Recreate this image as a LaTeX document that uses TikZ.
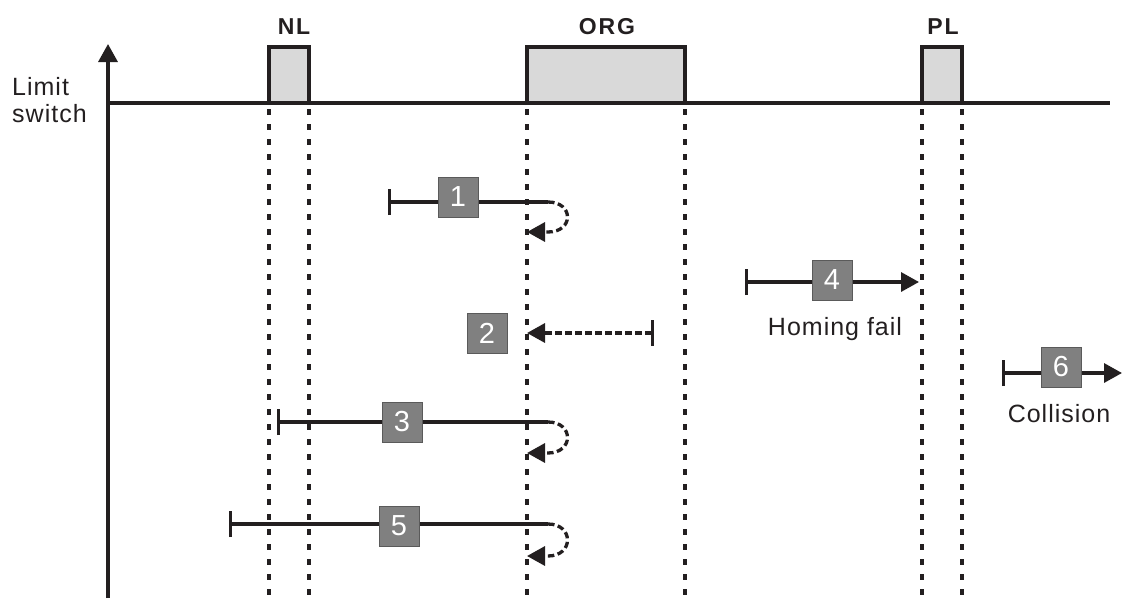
\documentclass[tikz,border=0pt]{standalone}
\usepackage{fontspec}
\setmainfont{Liberation Sans}
\newfontfamily\lab[LetterSpace=4]{Liberation Sans}
\newfontfamily\blab[LetterSpace=8]{Liberation Sans}
\usetikzlibrary{arrows.meta}
\definecolor{ink}{HTML}{231F20}
\definecolor{swfill}{HTML}{D9D9D9}
\definecolor{boxfill}{HTML}{808080}
\definecolor{boxedge}{HTML}{5A5A5A}
\tikzset{
  solidln/.style={draw=ink, line width=3.3pt},
  dotln/.style={draw=ink, line width=3.5pt, dash pattern=on 6pt off 9pt},
  dashln/.style={draw=ink, line width=3.3pt, dash pattern=on 6.5pt off 3.5pt},
  tipend/.style={-{Triangle[length=18pt,width=19pt]}},
  barstart/.style={{Bar[width=26pt]}-},
  barboth/.style={{Bar[width=26pt]}-{Triangle[length=18pt,width=19pt]}},
  numbox/.style={draw=boxedge, line width=1pt, fill=boxfill, minimum size=40pt, inner sep=0pt, text=white, font=\fontsize{29}{30}\selectfont},
  swbox/.style={draw=ink, line width=3.3pt, fill=swfill},
  txt/.style={anchor=base, inner sep=0pt, font=\lab\fontsize{25}{28}\selectfont, text=ink},
  toplab/.style={anchor=base, inner sep=0pt, font=\blab\bfseries\fontsize{23}{26}\selectfont, text=ink},
}
\begin{document}
\begin{tikzpicture}[x=1pt,y=-1pt]
\useasboundingbox (0,0) rectangle (1122,598);
% dotted guide lines
\foreach \xx/\nm in {269/a,309/b,527/c,685/d,922/e,962/f}{
  \coordinate (t\nm) at (\xx,94);
  \coordinate (b\nm) at (\xx,598);
  \draw[dotln] (t\nm) -- (b\nm);
}
% axes
\coordinate (ax0) at (108,598);
\coordinate (ax1) at (108,44);
\coordinate (h0) at (108,103);
\coordinate (h1) at (1110,103);
\draw[solidln, tipend] (ax0) -- (ax1);
\draw[solidln] (h0) -- (h1);
% limit switch boxes
\draw[swbox] (269,47) rectangle (309,103);
\draw[swbox] (527,47) rectangle (685,103);
\draw[swbox] (922,47) rectangle (962,103);
\node[toplab] (nl) at (294,34) {NL};
\node[toplab] (org) at (607,34) {ORG};
\node[toplab] (pl) at (943,34) {PL};
\node[txt, anchor=base west] (lim) at (12,95) {Limit};
\node[txt, anchor=base west] (sw) at (12,122) {switch};
% row 1
\coordinate (s1) at (388,202);
\coordinate (e1) at (548,202);
\coordinate (a1) at (527,232);
\draw[solidln, barstart] (s1) -- (e1);
\draw[dashln, tipend] (e1) .. controls (574,202) and (574,232) .. (548,232) -- (a1);
\node[numbox] (n1) at (458,197) {1};
% row 2
\coordinate (s2) at (654,333);
\coordinate (a2) at (527,333);
\draw[dashln, barboth] (s2) -- (a2);
\node[numbox] (n2) at (487,333) {2};
% row 3
\coordinate (s3) at (277,422);
\coordinate (e3) at (548,422);
\coordinate (a3) at (527,453);
\draw[solidln, barstart] (s3) -- (e3);
\draw[dashln, tipend] (e3) .. controls (574,422) and (574,453) .. (548,453) -- (a3);
\node[numbox] (n3) at (402,422) {3};
% row 5
\coordinate (s5) at (229,524);
\coordinate (e5) at (548,524);
\coordinate (a5) at (527,556);
\draw[solidln, barstart] (s5) -- (e5);
\draw[dashln, tipend] (e5) .. controls (574,524) and (574,556) .. (548,556) -- (a5);
\node[numbox] (n5) at (399,526) {5};
% row 4
\coordinate (s4) at (745,282);
\coordinate (a4) at (919,282);
\draw[solidln, barboth] (s4) -- (a4);
\node[numbox] (n4) at (832,280) {4};
\node[txt] (hf) at (835,335) {Homing fail};
% row 6
\coordinate (s6) at (1002,373);
\coordinate (a6) at (1122,373);
\draw[solidln, barboth] (s6) -- (a6);
\node[numbox] (n6) at (1061,367) {6};
\node[txt] (col) at (1059,422) {Collision};
\end{tikzpicture}
\end{document}
